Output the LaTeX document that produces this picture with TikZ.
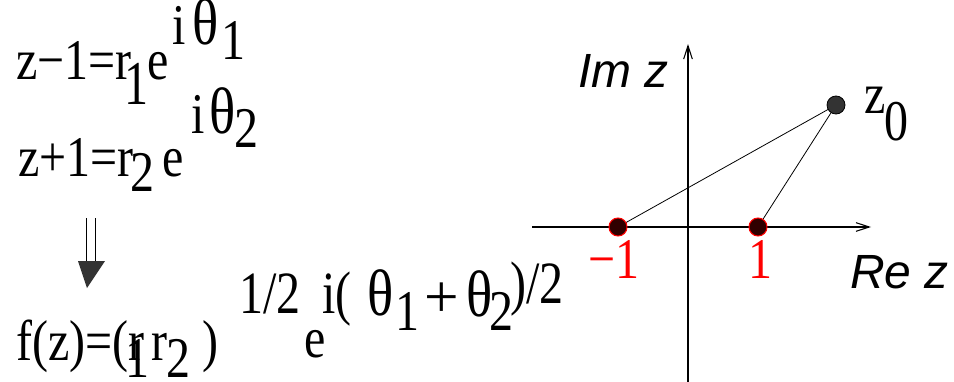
\documentclass[tikz,border=0pt]{standalone}
\usepackage{fontspec}
\setmainfont{Liberation Serif}
\setsansfont{Liberation Sans}
\usetikzlibrary{arrows.meta}
\definecolor{ptred}{HTML}{FF0000}
\definecolor{ptfill}{HTML}{300000}
\definecolor{zfill}{HTML}{333333}
\newcommand{\stretchy}[2]{\scalebox{1}[#1]{#2}}
\newcommand{\tl}[1]{\scalebox{1}[1.2]{#1}}
\tikzset{
  big/.style={anchor=base west, inner sep=0pt, font=\fontsize{36}{40}\selectfont},
  th/.style={anchor=base west, inner sep=0pt, font=\fontsize{41}{45}\selectfont},
  plus/.style={anchor=base west, inner sep=0pt, font=\fontsize{46}{50}\selectfont},
  axlab/.style={anchor=base west, inner sep=0pt, font=\sffamily\itshape\fontsize{36}{40}\selectfont},
  redlab/.style={anchor=base, inner sep=0pt, text=ptred, font=\fontsize{36}{40}\selectfont},
  axis/.style={line width=0.8pt, -{Straight Barb[length=10pt,width=6.5pt]}},
  seg/.style={line width=0.6pt},
  redpt/.style={circle, draw=ptred, fill=ptfill, line width=0.8pt, minimum size=13.5pt, inner sep=0pt},
  zpt/.style={circle, draw=black, fill=zfill, line width=0.6pt, minimum size=13.5pt, inner sep=0pt}
}
\begin{document}
\begin{tikzpicture}[x=0.75pt,y=-0.75pt]
\useasboundingbox (0,0) rectangle (954,382);
% line 1
\node[big] (a1) at (16,79) {\tl{z−1=r}};
\node[big] (a2) at (124,104) {\stretchy{1.3}{1}};
\node[big] (a3) at (147,79) {\tl{e}};
\node[big] (a4) at (172,45) {\tl{i}};
\node[th] (a4b) at (192,45) {\tl{θ}};
\node[big] (a5) at (221,60) {\tl{1}};
% line 2
\node[big] (b1) at (18,176) {\tl{z+1=r}};
\node[big] (b2) at (130,191) {\tl{2}};
\node[big] (b3) at (162,176) {\tl{e}};
\node[big] (b4) at (191,133) {\tl{i}};
\node[th] (b4b) at (209,133) {\tl{θ}};
\node[big] (b5) at (234,147) {\tl{2}};
% implication arrow
\draw[line width=0.9pt] (86.5,218) -- (86.5,262);
\draw[line width=0.9pt] (95.5,218) -- (95.5,262);
\fill[zfill] (78,261) -- (105,261) -- (87,288) -- cycle;
% line 3
\node[big] (c1) at (16,360) {\tl{f(z)=(r}};
\node[big] (c2) at (125,377) {\tl{1}};
\node[big] (c3) at (151,360) {\tl{r}};
\node[big] (c4) at (166,377) {\tl{2}};
\node[big] (c5) at (202,360) {\tl{)}};
\node[big] (c6) at (239,313) {\stretchy{1.25}{1/2}};
\node[big] (c7) at (304,357) {\tl{e}};
\node[big] (c8) at (322,313) {\stretchy{1.25}{i(}};
\node[th] (c9) at (367,315) {\tl{θ}};
\node[big] (c10) at (395,330) {\tl{1}};
\node[plus] (c11) at (424,317) {+};
\node[th] (c12) at (466,316) {\tl{θ}};
\node[big] (c13) at (489,330) {\tl{2}};
\node[big] (c14) at (510,303) {\stretchy{1.25}{)/2}};
% axes
\coordinate (xl) at (532,227);
\coordinate (xr) at (871,227);
\coordinate (yb) at (688,382);
\coordinate (yt) at (688,44);
\draw[axis] (xl) -- (xr);
\draw[axis] (yb) -- (yt);
\node[axlab] (im) at (578,87) {Im z};
\node[axlab] (re) at (850,288) {Re z};
% points
\coordinate (m1c) at (618,227);
\coordinate (p1c) at (758,227);
\coordinate (z0c) at (836,105);
\draw[seg] (m1c) -- (z0c);
\draw[seg] (p1c) -- (z0c);
\node[redpt] (m1) at (m1c) {};
\node[redpt] (p1) at (p1c) {};
\node[zpt] (z0) at (z0c) {};
\node[redlab] (lm1) at (614,278) {\tl{−1}};
\node[redlab] (lp1) at (760,278) {\tl{1}};
\node[big] (lz) at (864,113) {\tl{z}};
\node[big] (lz0) at (884,140) {\tl{0}};
\end{tikzpicture}
\end{document}
